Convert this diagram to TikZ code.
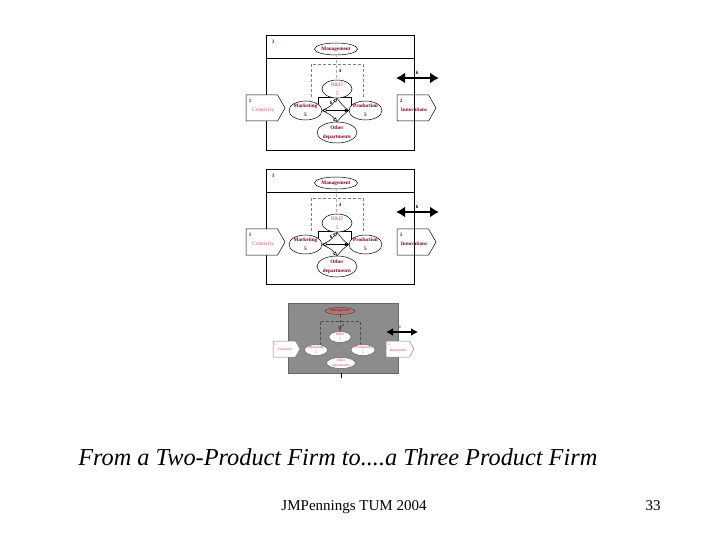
\documentclass[tikz,border=0pt]{standalone}
\usepackage{fontspec}
\setmainfont{Liberation Serif}
\usetikzlibrary{arrows.meta,shapes.geometric,shapes.symbols}
\definecolor{maroon}{RGB}{128,0,32}
\definecolor{rose}{RGB}{215,80,110}
\definecolor{slate}{RGB}{140,140,140}
\definecolor{dusty}{RGB}{180,115,115}
\definecolor{brightred}{RGB}{230,50,60}

\begin{document}
\begin{tikzpicture}[x=1pt,y=-1pt,line width=0.5pt,>=Stealth,
  dept/.style={ellipse,draw,fill=white,inner sep=0pt},
  flag/.style={signal,signal to=east,signal pointer angle=120,draw,inner sep=0pt},
  lbl/.style={font=\fontsize{5.2}{9}\selectfont\bfseries,text=maroon,align=center,inner sep=0pt},
  lightlbl/.style={font=\fontsize{5.5}{9}\selectfont,text=rose,align=center,inner sep=0pt},
  num/.style={font=\fontsize{5}{5}\selectfont\bfseries,text=maroon,inner sep=0pt},
  lbltiny/.style={font=\fontsize{3.6}{5}\selectfont,text=brightred,align=center,inner sep=0pt},
  dsh/.style={dash pattern=on 3pt off 2pt},
  opentip/.tip={Triangle[open,length=4pt,width=4pt]},
  bigarrow/.style={line width=2.8pt,{Latex[length=9pt,width=11pt]}-{Latex[length=9pt,width=11pt]}}]
\useasboundingbox (0,0) rectangle (720,540);
% ================= two-product firm (drawn twice) =================
\foreach \p/\dy in {a/0,b/134} {
\begin{scope}[shift={(0,\dy)}]
  % box: management strip on top
  \draw (266,35) rectangle (414,150);
  \draw (266,58) -- (414,58);
  \node[num] (n3\p) at (273,42) {3};
  \node[dept,minimum width=43pt,minimum height=12pt,label={[lbl]center:Management}] (mgt\p) at (336,49) {};
  % dashed R&D frame
  \draw[gray,dsh] (311,97) -- (311,64) -- (363,64) -- (363,97);
  \draw (318,109) -- (318,97) -- (351,97) -- (351,109);
  % departments
  \node[dept,minimum width=30pt,minimum height=18pt,label={[lightlbl]center:{R\&D\\5}}] (rnd\p) at (337,89) {};
  \node[dept,minimum width=33pt,minimum height=19pt,label={[lbl]center:{Marketing\\5}}] (mkt\p) at (305.5,110.5) {};
  \node[dept,minimum width=33pt,minimum height=19pt,label={[lbl]center:{Production\\5}}] (prd\p) at (365.5,110.5) {};
  \node[dept,minimum width=40pt,minimum height=21pt,label={[lbl]center:{Other\\departments}}] (oth\p) at (337,132.5) {};
  \draw[gray,dsh] (mgt\p) -- (rnd\p);
  \node[num] (n4\p) at (340,71) {4};
  % links between departments
  \draw[-opentip] (mkt\p.east) .. controls (331,106) .. (rnd\p.south);
  \draw (prd\p.west) .. controls (343,106) .. (rnd\p.south);
  \draw[-opentip] (mkt\p.east) .. controls (331,115) .. (oth\p.north);
  \draw (prd\p.west) .. controls (343,115) .. (oth\p.north);
  \draw[opentip-{Latex[length=4pt,width=4pt]}] (mkt\p.east) -- (prd\p.west);
  \node[num,text=black] (n6\p) at (331,103) {6};
  % input and output
  \node[flag,fill=white,minimum width=39pt,minimum height=26pt] (cre\p) at (261.8,108) {};
  \node[lightlbl] (cret\p) at (263,110) {Creativity};
  \node[num] (n1\p) at (250,101) {1};
  \node[flag,minimum width=39pt,minimum height=26pt] (inn\p) at (412.8,108) {};
  \node[lbl] (innt\p) at (414,110) {Innovations};
  \node[num] (n2\p) at (401,101) {2};
  \draw (414,95) -- (414,121);
  % exchange with outside
  \coordinate (dl\p) at (396,78);
  \coordinate (dr\p) at (439,78);
  \draw[bigarrow] (dl\p) -- (dr\p);
  \node[num,text=black] (nx\p) at (417,73) {6};
\end{scope}
}
% ================= three-product firm =================
\fill[slate] (288,303) rectangle (398,373);
\draw[black!60] (288,303) rectangle (398,373);
\node[lbltiny] (n3c) at (291,306) {3};
\draw[black!70,dsh] (320,345) -- (320,321) -- (360,321) -- (360,345);
\node[dept,fill=dusty,draw=black!70,minimum width=30pt,minimum height=7pt,label={[lbltiny,text=maroon]center:Management}] (mgtc) at (340,311) {};
\node[dept,draw=black!60,minimum width=22pt,minimum height=11pt,label={[lbltiny]center:{R\&D\\5}}] (rndc) at (340,337) {};
\node[dept,draw=black!60,minimum width=23pt,minimum height=11pt,label={[lbltiny]center:{Marketing\\5}}] (mktc) at (316,350) {};
\node[dept,draw=black!60,minimum width=24pt,minimum height=11pt,label={[lbltiny]center:{Production\\5}}] (prdc) at (363,350) {};
\node[dept,draw=black!60,minimum width=29pt,minimum height=11pt,label={[lbltiny]center:{Other\\departments}}] (othc) at (341,363) {};
\draw[black!70,dsh,->] (mgtc) -- (rndc);
\node[lbltiny,text=black] (n4c) at (343,325) {4};
\node[lbltiny] (n6c) at (338,345) {6};
\node[flag,fill=white,draw=black!50,minimum width=27pt,minimum height=16pt] (crec) at (284.2,349) {};
\node[lbltiny] (cretc) at (285,350) {Creativity};
\node[lbltiny] (n1c) at (275,344) {1};
\node[flag,fill=white,draw=black!50,minimum width=28pt,minimum height=16pt] (innc) at (397.7,349) {};
\node[lbltiny] (inntc) at (398,350) {Innovations};
\node[lbltiny] (n2c) at (389,344) {2};
\coordinate (dlc) at (386,332);
\coordinate (drc) at (418,332);
\draw[line width=2.2pt,{Latex[length=7pt,width=8pt]}-{Latex[length=7pt,width=8pt]}] (dlc) -- (drc);
\node[lbltiny,text=black] (nxc) at (400,327) {6};
\draw (341,373) -- (341,378);
% ================= caption and footer =================
\node[anchor=base west,inner sep=0pt,font=\fontsize{24.3}{24.3}\selectfont\itshape] (title) at (78,465) {From a Two-Product Firm to....a Three Product Firm};
\node[anchor=base,inner sep=0pt,font=\fontsize{15}{15}\selectfont] (foot) at (354,510) {JMPennings TUM 2004};
\node[anchor=base,inner sep=0pt,font=\fontsize{15}{15}\selectfont] (page) at (653,510) {33};
\end{tikzpicture}
\end{document}
